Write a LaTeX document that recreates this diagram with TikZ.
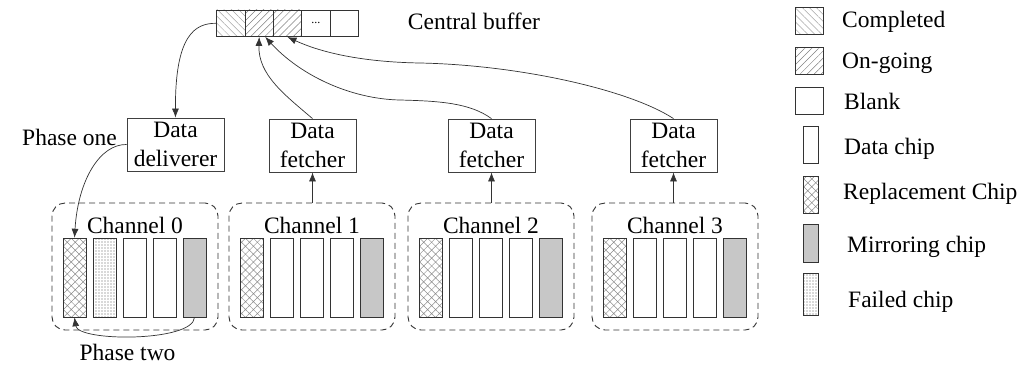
\documentclass[tikz,border=0pt]{standalone}
\usepackage{fontspec}
\setmainfont{Liberation Serif}
\usetikzlibrary{patterns.meta,arrows.meta}
\begin{document}
\begin{tikzpicture}[x=1pt,y=-1pt,
  txt/.style={font=\rmfamily\fontsize{23.5}{28.5}\selectfont, inner sep=0pt},
  box/.style={draw=black!75, line width=0.8pt, font=\rmfamily\fontsize{23.5}{28.5}\selectfont, align=center, inner sep=0pt, minimum width=87pt, minimum height=53pt},
  chan/.style={draw=black!80, line width=0.9pt, dash pattern=on 6pt off 4pt, rounded corners=13pt, inner sep=0pt},
  chip/.style={draw=black!80, line width=0.8pt, inner sep=0pt, minimum width=23pt, minimum height=79pt},
  lchip/.style={draw=black!80, line width=0.8pt, inner sep=0pt, minimum width=15pt},
  cell/.style={draw=black!80, line width=0.8pt, inner sep=0pt, minimum width=28.3pt, minimum height=26.7pt},
  completed/.style={pattern={Lines[angle=-45,distance=5pt,line width=0.5pt]}, pattern color=black!35},
  ongoing/.style={pattern={Lines[angle=45,distance=5pt,line width=0.5pt]}, pattern color=black!50},
  replace/.style={pattern={Hatch[angle=45,distance=5.6pt,line width=0.5pt]}, pattern color=black!45},
  failed/.style={pattern={Dots[distance=3pt,radius=0.6pt]}, pattern color=black!65},
  mirror/.style={fill=black!22},
  datachip/.style={},
  kind/.style={#1},
  conn/.style={draw=black!80, line width=0.7pt, -{Latex[length=9pt,width=7pt]}},
  legtxt/.style={font=\rmfamily\fontsize{23.5}{28.5}\selectfont, inner sep=0pt, anchor=base west}
]
\useasboundingbox (0,0) rectangle (1032,365);

% central buffer
\node[cell, completed] (b1) at (230.8,23.3) {};
\node[cell, ongoing]   (b2) at (259.2,23.3) {};
\node[cell, ongoing]   (b3) at (287.5,23.3) {};
\node[cell, font=\rmfamily\fontsize{12}{12}\selectfont] (b4) at (315.8,23.3) {...};
\node[cell]            (b5) at (344.2,23.3) {};
\node[txt] (cb) at (474,21) {Central buffer};

% deliverer and fetchers
\node[box, minimum width=97pt] (del) at (175.5,144.5) {Data\\deliverer};
\node[box] (f1) at (312.5,145.5) {Data\\fetcher};
\node[box] (f2) at (491.5,145.5) {Data\\fetcher};
\node[box] (f3) at (673.5,145.5) {Data\\fetcher};

% channels
\foreach \i/\x/\b in {0/52/failed,1/229/datachip,2/408/datachip,3/592/datachip}{
  \node[chan, minimum width=166pt, minimum height=127pt] (ch\i) at ({\x+83},266.5) {};
  \node[txt] (cl\i) at ({\x+83},225) {Channel \i};
  \node[chip, replace] (c\i-1) at ({\x+22.5},277.5) {};
  \node[chip, kind/.expand once=\b] (c\i-2) at ({\x+52.5},277.5) {};
  \node[chip] (c\i-3) at ({\x+82.5},277.5) {};
  \node[chip] (c\i-4) at ({\x+112.5},277.5) {};
  \node[chip, mirror] (c\i-5) at ({\x+142.5},277.5) {};
}

% labels
\node[txt] (p1) at (69.5,137) {Phase one};
\node[txt] (p2) at (127.5,352) {Phase two};

% connectors
\draw[conn] (b1.west) .. controls (195,23) and (175,35) .. (del.north);
\draw[conn] (f1.north) .. controls (285,95) and (258,75) .. (b2.south);
\draw[conn] (f2.north) .. controls (470,103) and (440,101) .. (400,100)
  .. controls (350,99) and (300,75) .. ([xshift=6pt]b2.south);
\draw[conn] (f3.north) .. controls (630,90) and (520,65) .. (420,63)
  .. controls (360,62) and (320,52) .. (b3.south);
\draw[conn] (del.west) .. controls (100,144) and (78,180) .. (c0-1.north);
\draw[conn] (c0-5.south) .. controls (193,342) and (78,342) .. (c0-1.south);
\draw[conn] (f1.south |- ch1.north) -- (f1.south);
\draw[conn] (f2.south |- ch2.north) -- (f2.south);
\draw[conn] (f3.south |- ch3.north) -- (f3.south);

% legend
\node[cell, completed, minimum width=28pt, minimum height=27pt] (lg1) at (809,20.5) {};
\node[cell, ongoing, minimum width=28pt, minimum height=27pt] (lg2) at (809,60.5) {};
\node[cell, minimum width=28pt, minimum height=27pt] (lg3) at (809,100.5) {};
\node[lchip, minimum height=37pt] (lg4) at (810.5,144.5) {};
\node[lchip, replace, minimum height=37pt] (lg5) at (810.5,194.5) {};
\node[lchip, mirror, minimum height=38pt] (lg6) at (810.5,243) {};
\node[lchip, failed, minimum height=42pt] (lg7) at (810.5,294) {};
\node[legtxt] (lt1) at (842,27) {Completed};
\node[legtxt] (lt2) at (842,68) {On-going};
\node[legtxt] (lt3) at (844,109) {Blank};
\node[legtxt] (lt4) at (844,154) {Data chip};
\node[legtxt] (lt5) at (843,199) {Replacement Chip};
\node[legtxt] (lt6) at (847,252) {Mirroring chip};
\node[legtxt] (lt7) at (848,307) {Failed chip};
\end{tikzpicture}
\end{document}
